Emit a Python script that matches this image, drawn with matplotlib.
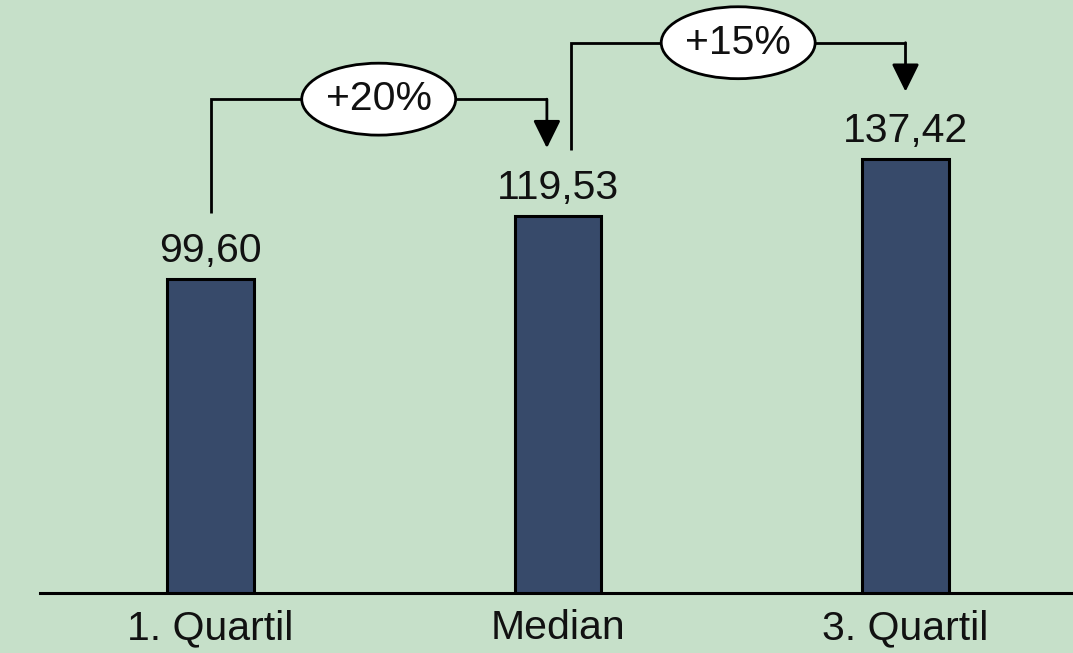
import matplotlib
matplotlib.use("Agg")
import matplotlib.pyplot as plt
from matplotlib.patches import Ellipse

categories = ["1. Quartil", "Median", "3. Quartil"]
values = [99.60, 119.53, 137.42]
value_labels = ["99,60", "119,53", "137,42"]
changes = [(0, 1, "+20%"), (1, 2, "+15%")]

BG = "#C6E0C9"
BAR = "#374A6A"
plt.rcParams["font.family"] = ["Liberation Sans", "DejaVu Sans"]

fig = plt.figure(figsize=(10.73, 6.53), dpi=100, facecolor=BG)
ax = fig.add_axes([0, 60 / 653, 1, 593 / 653])
ax.set_facecolor(BG)

x = list(range(len(categories)))
ax.bar(x, values, width=0.25, color=BAR, edgecolor="black", linewidth=2.2, zorder=3)

ax.set_xlim(-0.6058, 2.482)
ax.set_ylim(0, 187.96)

for s in ["top", "right", "left"]:
    ax.spines[s].set_visible(False)
ax.spines["bottom"].set_linewidth(2.2)
ax.spines["bottom"].set_bounds(-0.4906, 2.482)
ax.set_yticks([])
ax.set_xticks(x)
ax.set_xticklabels(categories, fontsize=29.5, color="#111111")
ax.tick_params(axis="x", length=0, pad=11.5)

for xi, v, lab in zip(x, values, value_labels):
    ax.text(xi, v + 5.4, lab, ha="center", va="baseline", fontsize=29.5, color="#111111", zorder=4)

# change brackets
for k, (i, j, lab) in enumerate(changes):
    x0 = i + (0.037 if k > 0 else 0.0)
    x1 = j - (0.032 if k < len(changes) - 1 else 0.0)
    y_start = values[i] + 21.0
    y_top = max(values[i], values[j]) + 37.0
    y_tip = values[j] + 21.5
    ax.plot([x0, x0, x1], [y_start, y_top, y_top], color="black", lw=2.0,
            solid_joinstyle="miter", solid_capstyle="butt", zorder=4)
    ax.annotate("", xy=(x1, y_tip), xytext=(x1, y_top),
                arrowprops=dict(arrowstyle="-|>,head_length=0.85,head_width=0.42",
                                mutation_scale=20, lw=2.0, color="black",
                                shrinkA=0, shrinkB=0), zorder=4)
    xm = (x0 + x1) / 2
    ax.add_patch(Ellipse((xm, y_top), 0.443, 22.8, facecolor="white",
                         edgecolor="black", lw=2.0, zorder=5))
    ax.text(xm, y_top, lab, ha="center", va="center", fontsize=29.5, color="#111111", zorder=6)

fig.savefig("out.png", dpi=100, facecolor=BG)
